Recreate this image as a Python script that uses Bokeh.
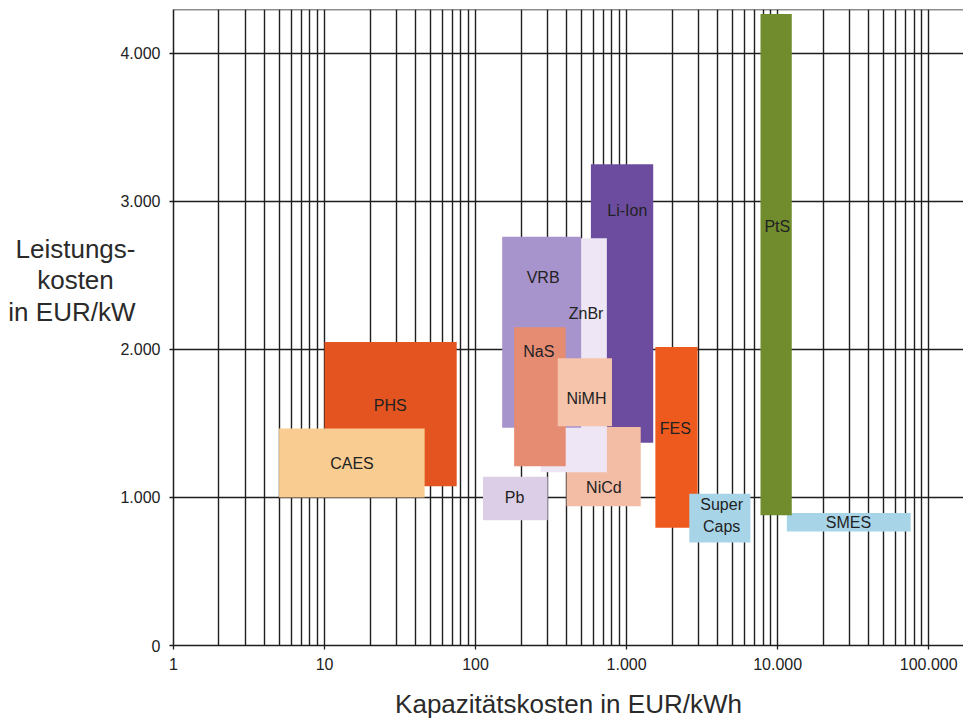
from bokeh.plotting import figure
from bokeh.models import ColumnDataSource, Range1d, FixedTicker, Span
from bokeh.core.properties import value
from bokeh.embed import file_html
from bokeh.resources import INLINE

# Storage technologies: capacity cost range (EUR/kWh) and power cost range (EUR/kW)
techs = ["PHS", "CAES", "Li-Ion", "NiCd", "ZnBr", "VRB", "NaS", "NiMH", "Pb",
         "FES", "Super\nCaps", "SMES", "PtS"]
cap_min = [10, 5, 580, 400, 270, 150, 180, 350, 112, 1550, 2600, 11500, 7700]
cap_max = [75, 46, 1500, 1240, 740, 500, 395, 800, 300, 2950, 6600, 76000, 12400]
pow_min = [1075, 1000, 1370, 940, 1170, 1470, 1210, 1480, 845, 795, 695, 770, 880]
pow_max = [2050, 1465, 3250, 1475, 2750, 2760, 2150, 1940, 1140, 2015, 1025, 895, 4265]
colors = ["#E35420", "#F9CD91", "#6C4C9E", "#F3BCA5", "#EEE6F5", "#A894CC", "#E68C73",
          "#F6C4AA", "#DCCEE6", "#EE5A1E", "#A8D4E8", "#A8D4E8", "#708C2D"]

# where each technology name sits inside its area
label_cap = [27.2, 15.2, 1011, 707, 539, 280, 262, 542, 181, 2103, 4256, 29400, 9950]
label_pow = [1622, 1230, 2939, 1064, 2241, 2483, 1988, 1667, 997, 1464, 878, 833, 2830]

x_ticks = [1, 10, 100, 1000, 10000, 100000]
x_tick_labels = ["1", "10", "100", "1.000", "10.000", "100.000"]
y_ticks = [0, 1000, 2000, 3000, 4000]
y_tick_labels = ["0", "1.000", "2.000", "3.000", "4.000"]
x_minor = [m * d for d in x_ticks[:-1] for m in range(2, 10)]

# horizontal title of the power-cost axis, one entry per line
y_title_lines = ["Leistungs-", "kosten", "in EUR/kW"]

X_MAX = 170000
Y_MAX = 4295

FONT = "Liberation Sans"
GRID = "#1e1e1e"
NBSP = "\u00a0"

p = figure(width=963, height=726, x_axis_type="log",
           x_range=Range1d(1, X_MAX), y_range=Range1d(0, Y_MAX),
           output_backend="svg", toolbar_location=None,
           min_border_left=173, min_border_right=0,
           min_border_top=9, min_border_bottom=81)
p.outline_line_color = None
p.background_fill_color = "white"
p.border_fill_color = "white"

# axes
p.xaxis.ticker = FixedTicker(ticks=x_ticks, minor_ticks=x_minor)
p.yaxis.ticker = FixedTicker(ticks=y_ticks)
p.xaxis.major_label_overrides = dict(zip(x_ticks, x_tick_labels))
p.yaxis.major_label_overrides = dict(zip(y_ticks, y_tick_labels))
for ax in (p.xaxis, p.yaxis):
    ax.axis_line_color = GRID
    ax.axis_line_width = 1.5
    ax.major_tick_line_color = GRID
    ax.major_tick_line_width = 1.3
    ax.major_tick_in = 0
    ax.major_tick_out = 4
    ax.minor_tick_in = 0
    ax.minor_tick_out = 0
    ax.major_label_text_font = FONT
    ax.major_label_text_font_size = "16px"
    ax.major_label_text_color = "#222222"
    ax.axis_label_text_font = FONT
    ax.axis_label_text_font_size = "26px"
    ax.axis_label_text_font_style = "normal"
    ax.axis_label_text_color = "#2a2a2a"
p.xaxis.major_label_standoff = 8
p.yaxis.major_label_standoff = 9

p.xaxis.axis_label = "Kapazitätskosten in EUR/kWh"
p.xaxis.axis_label_standoff = 16

# three horizontal lines, the short middle one padded so it sits centred,
# lifted above the frame's middle by blank lines below
title_lines = list(y_title_lines)
title_lines[1] = title_lines[1] + NBSP * 3
p.yaxis.axis_label = "\n".join(title_lines + [NBSP, NBSP, NBSP])
p.yaxis.axis_label_orientation = "horizontal"
p.yaxis.axis_label_text_line_height = 1.05
p.yaxis.axis_label_standoff = -18

# grid
p.xgrid.grid_line_color = GRID
p.xgrid.grid_line_width = 1.4
p.xgrid.minor_grid_line_color = GRID
p.xgrid.minor_grid_line_width = 1.4
p.ygrid.grid_line_color = GRID
p.ygrid.grid_line_width = 1.4

p.add_layout(Span(location=Y_MAX, dimension="width", line_color=GRID, line_width=1.5))

# cost areas
src = ColumnDataSource(dict(left=cap_min, right=cap_max, bottom=pow_min, top=pow_max,
                            color=colors, name=techs, lx=label_cap, ly=label_pow))
p.quad(left="left", right="right", bottom="bottom", top="top", fill_color="color",
       line_color=None, source=src)
p.text(x="lx", y="ly", text="name", source=src, text_align="center",
       text_baseline="middle", text_font=value(FONT), text_font_size="16px",
       text_color="#222222", text_line_height=1.35)

open("out.html", "w").write(file_html(p, INLINE))
